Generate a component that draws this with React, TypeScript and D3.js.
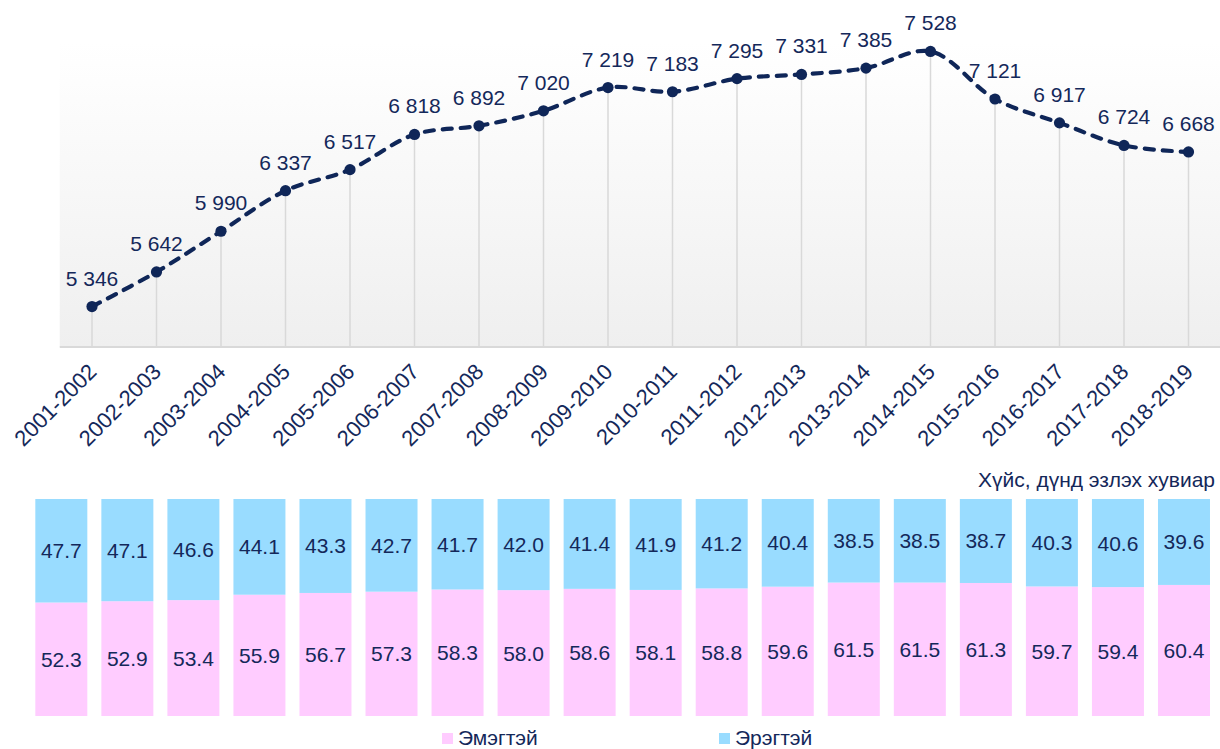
import React from "react";
import * as d3 from "d3";

const periods = [
  "2001-2002", "2002-2003", "2003-2004", "2004-2005", "2005-2006", "2006-2007",
  "2007-2008", "2008-2009", "2009-2010", "2010-2011", "2011-2012", "2012-2013",
  "2013-2014", "2014-2015", "2015-2016", "2016-2017", "2017-2018", "2018-2019",
];
const totals = [5346, 5642, 5990, 6337, 6517, 6818, 6892, 7020, 7219, 7183, 7295, 7331, 7385, 7528, 7121, 6917, 6724, 6668];
const female = [52.3, 52.9, 53.4, 55.9, 56.7, 57.3, 58.3, 58.0, 58.6, 58.1, 58.8, 59.6, 61.5, 61.5, 61.3, 59.7, 59.4, 60.4];
const male = [47.7, 47.1, 46.6, 44.1, 43.3, 42.7, 41.7, 42.0, 41.4, 41.9, 41.2, 40.4, 38.5, 38.5, 38.7, 40.3, 40.6, 39.6];
const seriesNames = ["Эмэгтэй", "Эрэгтэй"];
const shareTitle = "Хүйс, дүнд эзлэх хувиар";

const NAVY = "#14285a";
const LINE = "#0f2658";
const PINK = "#ffccff";
const BLUE = "#99dcff";
const FONT = "'Liberation Sans', Arial, sans-serif";

const locale = d3.formatLocale({ decimal: ".", thousands: " ", grouping: [3], currency: ["", ""] });
const fmt = locale.format(",d");

export default function App() {
  const W = 1220;
  const H = 749;

  // top chart
  const x = d3.scaleBand<string>().domain(periods).range([59.75, 1220.75]).padding(0);
  const cx = (p: string) => (x(p) as number) + x.bandwidth() / 2;
  const y = d3.scaleLinear().domain([5000, 7600]).range([347, 43]);
  const line = d3
    .line<number>()
    .x((_, i) => cx(periods[i]))
    .y((d) => y(d))
    .curve(d3.curveCatmullRom.alpha(0.5));

  // bottom chart
  const xb = d3.scaleBand<string>().domain(periods).range([28.3, 1217]).paddingInner(0.2126).paddingOuter(0.1063);
  const yb = d3.scaleLinear().domain([0, 100]).range([716, 499]);

  return (
    <svg
      width={W}
      height={H}
      style={{ position: "absolute", left: 0, top: 0, display: "block", background: "#fff" }}
      fontFamily={FONT}
    >
      <defs>
        <linearGradient id="bg" x1="0" y1="0" x2="0" y2="1">
          <stop offset="0" stopColor="#ffffff" />
          <stop offset="1" stopColor="#efefef" />
        </linearGradient>
      </defs>
      <rect x={59.75} y={y(7600)} width={1220.75 - 59.75} height={y(5000) - y(7600)} fill="url(#bg)" />
      {periods.map((p, i) => (
        <line key={"d" + p} x1={cx(p)} x2={cx(p)} y1={y(totals[i])} y2={y(5000)} stroke="#d9d9d9" strokeWidth={1.5} />
      ))}
      <line x1={59.75} x2={1220} y1={y(5000)} y2={y(5000)} stroke="#d9d9d9" strokeWidth={2} />
      <path d={line(totals) || ""} fill="none" stroke={LINE} strokeWidth={4.2} strokeDasharray="9,9" strokeLinecap="round" />
      {periods.map((p, i) => (
        <circle key={"c" + p} cx={cx(p)} cy={y(totals[i])} r={5.6} fill={LINE} />
      ))}
      {periods.map((p, i) => (
        <text key={"l" + p} x={cx(p)} y={y(totals[i]) - 21} textAnchor="middle" fontSize={21} fill={NAVY}>
          {fmt(totals[i])}
        </text>
      ))}
      {periods.map((p) => (
        <text
          key={"x" + p}
          transform={`translate(${cx(p) + 6},${373}) rotate(-45)`}
          textAnchor="end"
          fontSize={22}
          fill={NAVY}
        >
          {p}
        </text>
      ))}

      {/* bottom chart */}
      <text x={1215} y={487} textAnchor="end" fontSize={21} fill={NAVY}>
        {shareTitle}
      </text>
      {periods.map((p, i) => {
        const bx = xb(p) as number;
        const bw = xb.bandwidth();
        const yf = yb(female[i]);
        const ym = yb(female[i] + male[i]);
        return (
          <g key={"b" + p}>
            <rect x={bx} y={yf} width={bw} height={yb(0) - yf} fill={PINK} />
            <rect x={bx} y={ym} width={bw} height={yf - ym} fill={BLUE} />
            <text x={bx + bw / 2} y={(yf + yb(0)) / 2 + 7.5} textAnchor="middle" fontSize={21} fill={NAVY}>
              {female[i].toFixed(1)}
            </text>
            <text x={bx + bw / 2} y={(yf + ym) / 2 + 7.5} textAnchor="middle" fontSize={21} fill={NAVY}>
              {male[i].toFixed(1)}
            </text>
          </g>
        );
      })}
      <rect x={442} y={733} width={11} height={11} fill={PINK} />
      <text x={458} y={745} fontSize={21} fill={NAVY}>{seriesNames[0]}</text>
      <rect x={719} y={733} width={11} height={11} fill={BLUE} />
      <text x={735} y={745} fontSize={21} fill={NAVY}>{seriesNames[1]}</text>
    </svg>
  );
}
